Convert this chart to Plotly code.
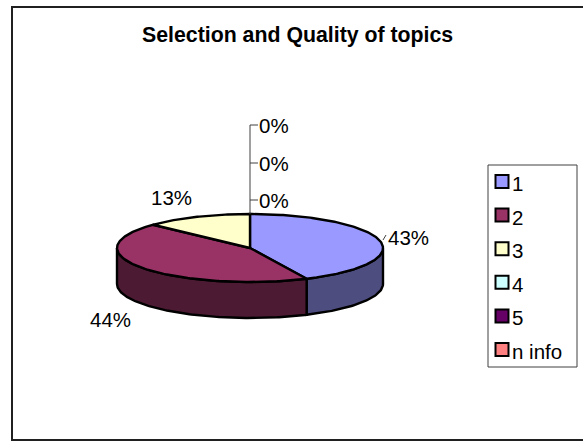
import numpy as np
import plotly.graph_objects as go

# Survey results
categories = ["1", "2", "3", "4", "5", "n info"]
percent = [43, 44, 13, 0, 0, 0]
top_colors = ["#9999FF", "#993366", "#FFFFCC", "#CCFFFF", "#660066", "#FF8080"]
side_colors = ["#4D4D80", "#4D1A33", "#808066", "#668080", "#330033", "#804040"]
title_text = "Selection and Quality of topics"

# Canvas-sized axes, with the pie described by its centre, radii and rim depth
W, H = 583, 441
CX, CY, RX, RY, DEPTH = 250, 248, 133, 34, 36
FONT = "Liberation Sans, Arial, sans-serif"
OUTLINE = "#000000"
LABEL_SIZE = 20.5


def rim(start, stop, drop=0.0):
    """Points along the pie's edge between two clockwise angles from 12 o'clock."""
    steps = max(2, int(abs(stop - start) * 60))
    t = np.linspace(start, stop, steps)
    return CX + RX * np.sin(t), CY + drop - RY * np.cos(t)


def polygon(x, y, fill, width=2.4):
    return go.Scatter(
        x=list(x), y=list(y), mode="lines", fill="toself", fillcolor=fill,
        line=dict(color=OUTLINE, width=width), hoverinfo="skip", showlegend=False,
    )


fig = go.Figure()

edges = 2 * np.pi * np.concatenate([[0], np.cumsum(percent)]) / sum(percent)

# Rim faces: only the part of each slice turned toward the viewer
for i, v in enumerate(percent):
    a, b = max(edges[i], np.pi / 2), min(edges[i + 1], 3 * np.pi / 2)
    if v == 0 or b <= a:
        continue
    x1, y1 = rim(a, b)
    x2, y2 = rim(b, a, DEPTH)
    fig.add_trace(polygon(np.r_[x1, x2, x1[0]], np.r_[y1, y2, y1[0]], side_colors[i]))

# Top faces
for i, v in enumerate(percent):
    if v == 0:
        continue
    x1, y1 = rim(edges[i], edges[i + 1])
    fig.add_trace(polygon(np.r_[CX, x1, CX], np.r_[CY, y1, CY], top_colors[i]))

# Leader lines for the empty slices and the first slice's label
leader = "#404040"
fig.add_trace(go.Scatter(
    x=[250, 250, None, 250, 258, None, 250, 258, None, 250, 258, None, 383, 386],
    y=[214, 125, None, 200, 200, None, 163, 163, None, 125, 125, None, 240, 235],
    mode="lines", line=dict(color=leader, width=1, simplify=False),
    hoverinfo="skip", showlegend=False,
))

# Percentage labels
label_pos = [(408, 237), (110, 319), (171, 197), (274, 200), (274, 163), (274, 125)]
annotations = [
    dict(x=x, y=y, text=f"{v}%", showarrow=False, xanchor="center", yanchor="middle",
         font=dict(family=FONT, size=LABEL_SIZE, color="black"))
    for (x, y), v in zip(label_pos, percent)
]

# Key
KEY_X, KEY_Y, KEY_STEP = 502, 181.5, 33.6
key_y = [KEY_Y + KEY_STEP * i for i in range(len(categories))]
fig.add_trace(go.Scatter(
    x=[KEY_X] * len(categories), y=key_y, mode="markers",
    marker=dict(symbol="square", size=13, color=top_colors, line=dict(color=OUTLINE, width=2)),
    hoverinfo="skip", showlegend=False,
))
annotations += [
    dict(x=510, y=y + 2, text=c, showarrow=False, xanchor="left", yanchor="middle",
         font=dict(family=FONT, size=LABEL_SIZE, color="black"))
    for c, y in zip(categories, key_y)
]
annotations.append(dict(
    x=297.5, y=35, text=f"<b>{title_text}</b>", showarrow=False, xanchor="center", yanchor="middle",
    font=dict(family=FONT, size=21.3, color="black"),
))

# The outer frame runs past the right edge of the page
shapes = [
    dict(type="rect", x0=12, y0=7, x1=W + 10, y1=440, line=dict(color="#202020", width=2), layer="below"),
    dict(type="rect", x0=488, y0=165, x1=577, y1=367, line=dict(color="#404040", width=1), layer="below"),
]

fig.update_layout(
    width=W, height=H, margin=dict(l=0, r=0, t=0, b=0),
    paper_bgcolor="white", plot_bgcolor="white",
    xaxis=dict(range=[0, W], visible=False, fixedrange=True),
    yaxis=dict(range=[H, 0], visible=False, fixedrange=True),
    annotations=annotations, shapes=shapes, showlegend=False,
)

fig.write_html("out.html", config=dict(displayModeBar=False))
